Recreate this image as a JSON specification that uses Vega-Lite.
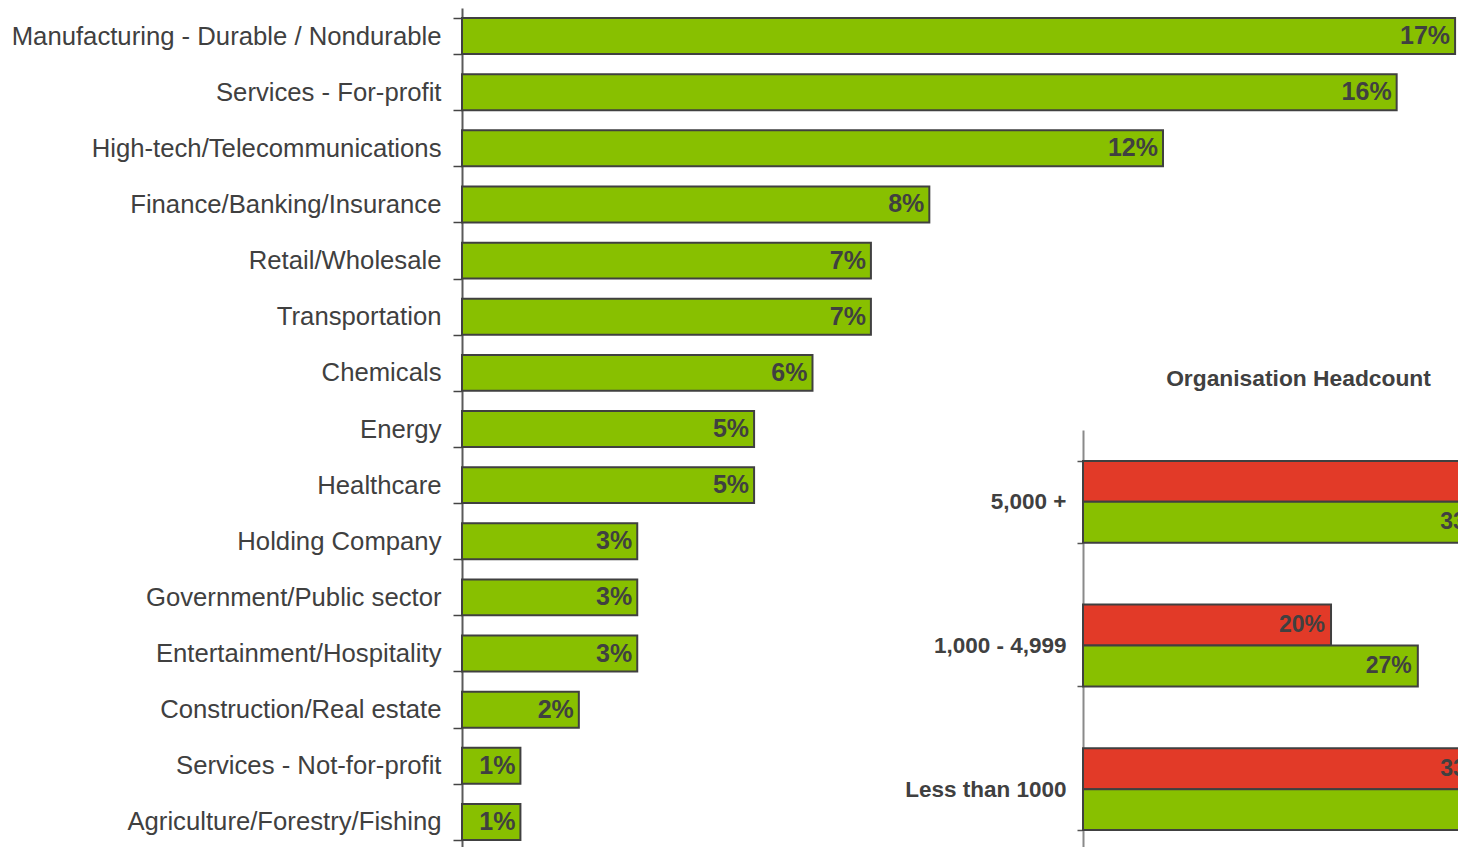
{
  "$schema": "https://vega.github.io/schema/vega-lite/v6.json",
  "autosize": {"type": "none"},
  "padding": {"left": 462, "top": 8, "right": 0, "bottom": 0},
  "width": 996,
  "height": 842,
  "background": "white",
  "config": {"view": {"stroke": null}, "font": "Liberation Sans"},
  "datasets": {
    "industry": [
      {"sector": "Manufacturing - Durable / Nondurable", "share": 0.17},
      {"sector": "Services - For-profit", "share": 0.16},
      {"sector": "High-tech/Telecommunications", "share": 0.12},
      {"sector": "Finance/Banking/Insurance", "share": 0.08},
      {"sector": "Retail/Wholesale", "share": 0.07},
      {"sector": "Transportation", "share": 0.07},
      {"sector": "Chemicals", "share": 0.06},
      {"sector": "Energy\u2009\u2009", "share": 0.05},
      {"sector": "Healthcare", "share": 0.05},
      {"sector": "Holding Company", "share": 0.03},
      {"sector": "Government/Public sector", "share": 0.03},
      {"sector": "Entertainment/Hospitality", "share": 0.03},
      {"sector": "Construction/Real estate", "share": 0.02},
      {"sector": "Services - Not-for-profit", "share": 0.01},
      {"sector": "Agriculture/Forestry/Fishing", "share": 0.01}
    ],
    "headcount": [
      {"size": "5,000 +", "series": "Series 1", "share": 0.47},
      {"size": "5,000 +", "series": "Series 2", "share": 0.33},
      {"size": "1,000 - 4,999", "series": "Series 1", "share": 0.20},
      {"size": "1,000 - 4,999", "series": "Series 2", "share": 0.27},
      {"size": "Less than 1000", "series": "Series 1", "share": 0.33},
      {"size": "Less than 1000", "series": "Series 2", "share": 0.40}
    ]
  },
  "layer": [
    {
      "data": {"name": "industry"},
      "encoding": {
        "y": {
          "field": "sector", "type": "nominal", "sort": null,
          "scale": {"paddingInner": 0.36, "paddingOuter": 0.18},
          "axis": {
            "title": null, "labelFontSize": 25.7, "labelFont": "Liberation Sans",
            "labelColor": "#404040", "labelPadding": 12, "labelLimit": 0,
            "tickSize": 9, "tickBand": "extent", "tickColor": "#444444", "tickWidth": 1.5,
            "domainColor": "#5a5a5a", "domainWidth": 2
          }
        },
        "x": {
          "field": "share", "type": "quantitative",
          "scale": {"domain": [0, 0.1705], "nice": false},
          "axis": null
        }
      },
      "layer": [
        {"mark": {"type": "bar", "fill": "#88C000", "stroke": "#404040", "strokeWidth": 2}},
        {
          "mark": {"type": "text", "align": "right", "baseline": "middle", "dx": -5, "fontSize": 25, "fontWeight": "bold", "font": "Liberation Sans", "color": "#404040"},
          "encoding": {"text": {"field": "share", "type": "quantitative", "format": ".0%"}}
        }
      ]
    },
    {
      "data": {"name": "headcount"},
      "encoding": {
        "y": {
          "field": "size", "type": "nominal", "sort": ["5,000 +", "1,000 - 4,999", "Less than 1000"],
          "scale": {"range": [422, 853], "paddingInner": 0.43, "paddingOuter": 0.215},
          "axis": {
            "orient": "left", "offset": -621, "title": null,
            "labelFontSize": 22.5, "labelFontWeight": "bold", "labelFont": "Liberation Sans",
            "labelColor": "#404040", "labelPadding": 11, "labelLimit": 0,
            "tickSize": 6, "tickBand": "extent", "tickColor": "#555555", "tickWidth": 1.5,
            "domainColor": "#8a8a8a", "domainWidth": 2
          }
        },
        "yOffset": {
          "field": "series", "type": "nominal", "sort": ["Series 1", "Series 2"],
          "scale": {"paddingInner": 0, "paddingOuter": 0}
        },
        "x": {
          "field": "share", "type": "quantitative",
          "scale": {"domain": [-0.5008, 0.3024], "nice": false, "zero": false},
          "axis": {
            "orient": "top", "domain": false, "ticks": false, "labels": false, "grid": false,
            "title": "Organisation Headcount", "titleFontSize": 22.8, "titleFontWeight": "bold",
            "titleFont": "Liberation Sans", "titleColor": "#404040",
            "titleX": 836, "titleY": 370, "titleAlign": "center", "titleBaseline": "middle"
          }
        }
      },
      "layer": [
        {
          "mark": {"type": "bar", "stroke": "#404040", "strokeWidth": 2, "clip": true},
          "encoding": {
            "x": {"datum": 0, "type": "quantitative"},
            "x2": {"field": "share"},
            "fill": {"field": "series", "type": "nominal", "scale": {"domain": ["Series 1", "Series 2"], "range": ["#E23A28", "#88C000"]}, "legend": null}
          }
        },
        {
          "mark": {"type": "text", "align": "right", "baseline": "middle", "dx": -6, "fontSize": 23, "fontWeight": "bold", "font": "Liberation Sans", "color": "#404040", "clip": true},
          "encoding": {"text": {"field": "share", "type": "quantitative", "format": ".0%"}}
        }
      ]
    }
  ],
  "resolve": {"scale": {"x": "independent", "y": "independent"}, "axis": {"x": "independent", "y": "independent"}}
}
